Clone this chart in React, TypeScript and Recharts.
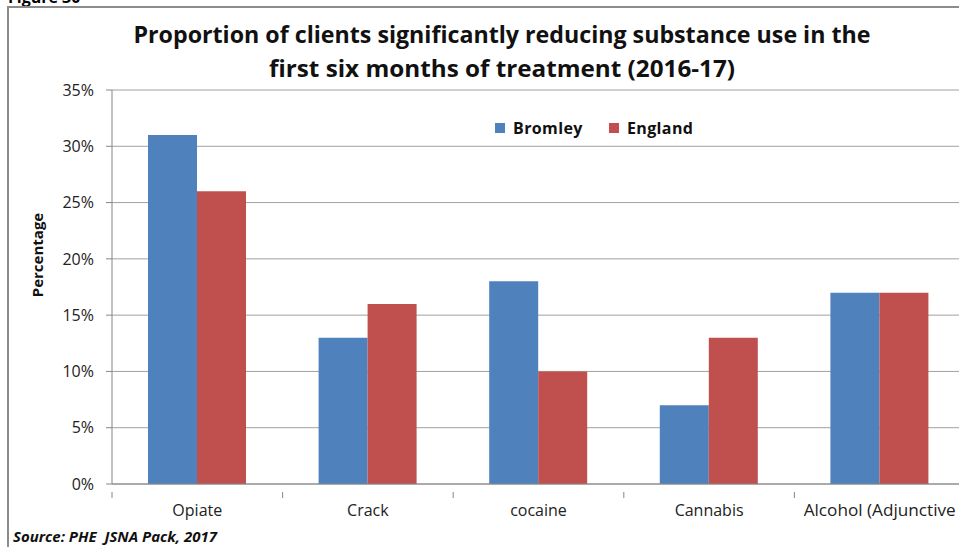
import React from 'react';
import { BarChart, Bar, XAxis, YAxis, CartesianGrid } from 'recharts';

const categories = ['Opiate', 'Crack', 'cocaine', 'Cannabis', 'Alcohol (Adjunctive'];
const bromley = [31, 13, 18, 7, 17];
const england = [26, 16, 10, 13, 17];
const yTicks = [0, 5, 10, 15, 20, 25, 30, 35];

const BLUE = '#4f81bd';
const RED = '#c0504d';
const AXIS = '#868686';
const FONT = '"Open Sans", "Noto Sans", sans-serif';

const CHART_W = 975;
const CHART_H = 547;
const PLOT_LEFT = 112;
const PLOT_RIGHT = 965;
const BAND = (PLOT_RIGHT - PLOT_LEFT) / categories.length;

const data = categories.map((name, i) => ({
  name,
  Bromley: bromley[i],
  England: england[i],
}));

// category labels plus the small boundary ticks between groups
const CategoryTick = (props: any) => {
  const { x, y, payload, index } = props;
  return (
    <g>
      <line x1={x - BAND / 2} y1={y} x2={x - BAND / 2} y2={y + 6} stroke={AXIS} />
      {index === categories.length - 1 && (
        <line x1={x + BAND / 2} y1={y} x2={x + BAND / 2} y2={y + 6} stroke={AXIS} />
      )}
      <text x={x} y={y + 24} textAnchor="middle" fontFamily={FONT} fontSize={16} fill="#222" textLength={payload.value.length > 10 ? 152 : undefined} lengthAdjust="spacingAndGlyphs">
        {payload.value}
      </text>
    </g>
  );
};

const LegendBox = () => (
  <div style={{ display: 'flex', alignItems: 'center', fontFamily: FONT, fontWeight: 700, fontSize: 16, color: '#111' }}>
    <span style={{ width: 10, height: 10, background: BLUE, display: 'inline-block', marginRight: 8 }} />
    <span style={{ marginRight: 26, letterSpacing: 0.4 }}>Bromley</span>
    <span style={{ width: 10, height: 10, background: RED, display: 'inline-block', marginRight: 8 }} />
    <span style={{ letterSpacing: 0.4 }}>England</span>
  </div>
);

export default function App() {
  return (
    <div style={{ position: 'fixed', left: 0, top: 0, width: 959, height: 547, overflow: 'hidden', background: '#fff' }}>
      <svg width={959} height={547} style={{ position: 'absolute', left: 0, top: 0 }}>
        <text x={8} y={3} fontFamily={FONT} fontWeight={700} fontSize={16} fill="#000">Figure 30</text>
        <rect x={8} y={7} width={1000} height={600} fill="none" stroke="#8c8c8c" strokeWidth={2} />
      </svg>
      <div style={{ position: 'absolute', left: 0, top: 0 }}>
        <BarChart
          width={CHART_W}
          height={CHART_H}
          data={data}
          margin={{ top: 90, right: CHART_W - PLOT_RIGHT, bottom: 23, left: 0 }}
          barCategoryGap={36}
          barGap={0}
        >
          <CartesianGrid vertical={false} stroke="#a0a0a0" />
          <XAxis
            dataKey="name"
            height={40}
            axisLine={{ stroke: AXIS }}
            tickLine={false}
            tick={<CategoryTick />}
            interval={0}
          />
          <YAxis
            width={PLOT_LEFT}
            domain={[0, 35]}
            ticks={yTicks}
            tickFormatter={(v: number) => `${v}%`}
            axisLine={{ stroke: AXIS }}
            tickLine={{ stroke: AXIS }}
            tickSize={6}
            tickMargin={12}
            tick={{ fontFamily: FONT, fontSize: 16, fill: '#222' }}
          />
          <Bar dataKey="Bromley" fill={BLUE} isAnimationActive={false} />
          <Bar dataKey="England" fill={RED} isAnimationActive={false} />
        </BarChart>
      </div>
      <div style={{ position: 'absolute', left: 495, top: 117 }}>
        <LegendBox />
      </div>
      <svg width={959} height={547} style={{ position: 'absolute', left: 0, top: 0, pointerEvents: 'none' }}>
        <text x={502} y={43} textAnchor="middle" fontFamily={FONT} fontWeight={700} fontSize={24} fill="#111" textLength={737} lengthAdjust="spacingAndGlyphs">
          Proportion of clients significantly reducing substance use in the
        </text>
        <text x={502} y={77} textAnchor="middle" fontFamily={FONT} fontWeight={700} fontSize={24} fill="#111" textLength={466} lengthAdjust="spacingAndGlyphs">
          first six months of treatment (2016-17)
        </text>
        <text x={43} y={255} textAnchor="middle" transform="rotate(-90 43 255)" fontFamily={FONT} fontWeight={700} fontSize={15} fill="#111">
          Percentage
        </text>
        <text x={13} y={542} fontFamily={FONT} fontWeight={700} fontStyle="italic" fontSize={15} fill="#111">
          {'Source: PHE\u00a0 JSNA Pack, 2017'}
        </text>
      </svg>
    </div>
  );
}
